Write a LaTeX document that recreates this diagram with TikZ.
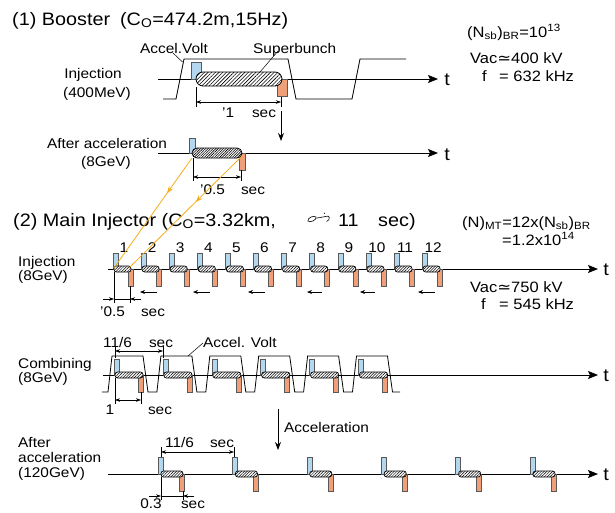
\documentclass[tikz,border=0pt]{standalone}
\usepackage{fontspec}
\setmainfont{Liberation Sans}[FakeStretch=1.1]
\newfontfamily\djv{DejaVu Sans}[FakeStretch=1.1]
\usetikzlibrary{arrows.meta,patterns.meta,decorations.markings}
\definecolor{bluefill}{RGB}{180,215,240}
\definecolor{orfill}{RGB}{240,160,120}
\definecolor{orline}{RGB}{245,172,30}
\begin{document}
\begin{tikzpicture}[x=1pt,y=-1pt,
  lbl/.style={inner sep=0pt,font=\fontsize{14}{16}\selectfont},
  ttl/.style={inner sep=0pt,font=\fontsize{18}{20}\selectfont},
  info/.style={inner sep=0pt,font=\fontsize{15}{18}\selectfont},
  tlbl/.style={inner sep=0pt,font=\fontsize{18}{20}\selectfont},
  axis/.style={line width=0.9pt,-{Stealth[length=10pt,width=8pt,inset=2pt]}},
  wave/.style={line width=0.8pt},
  bluebox/.style={draw=black!65,fill=bluefill,line width=0.5pt},
  orbox/.style={draw=black!65,fill=orfill,line width=0.5pt},
  bigbunch/.style={draw=black,line width=0.8pt,rounded corners=7pt,preaction={fill=white},
     pattern={Lines[angle=45,distance=2.6pt,line width=0.6pt]}},
  midbunch/.style={draw=black,line width=0.8pt,rounded corners=5pt,preaction={fill=white},
     pattern={Lines[angle=45,distance=1.8pt,line width=0.6pt]}},
  smallbunch/.style={draw=black,line width=0.7pt,rounded corners=2.5pt,preaction={fill=white},
     pattern={Lines[angle=45,distance=2pt,line width=0.5pt]}},
  dim/.style={line width=0.5pt,{Stealth[length=5pt,width=3.5pt]}-{Stealth[length=5pt,width=3.5pt]}},
  dimin/.style={line width=0.5pt,-{Stealth[length=5pt,width=3.5pt]}},
  ext/.style={line width=0.5pt},
  down/.style={line width=0.8pt,-{Stealth[length=8pt,width=6pt]}},
  leftarr/.style={line width=0.8pt,-{Stealth[length=5pt,width=4pt]}},
  leader/.style={line width=0.5pt},
  feed/.style={draw=orline,line width=0.8pt,
     decoration={markings,mark=at position #1 with {\arrow[orline]{Stealth[length=7pt,width=5pt]}}},
     postaction={decorate}}
]
\useasboundingbox (0,0) rectangle (615,512);

% ================= (1) Booster =================
\node[ttl,anchor=base west] (title1) at (12,25) {(1) Booster\hspace{10pt}(C\textsubscript{O}=474.2m,15Hz)};

% Injection row
\node[lbl,anchor=base] (binj1) at (93,78) {Injection};
\node[lbl,anchor=base] (binj2) at (97,97) {(400MeV)};
\coordinate (bax1s) at (158,79);
\coordinate (bax1e) at (438,79);
\draw[axis] (bax1s) -- (bax1e);
\node[tlbl,anchor=base] (bt1) at (447,85) {t};
\draw[wave] (163,99) -- (176,99) -- (184,59) -- (288,59) -- (296,99) -- (352,99) -- (360,59) -- (406,59);
\draw[bluebox] (191,62) rectangle (201,79);
\draw[orbox] (277,79) rectangle (287,96);
\draw[bigbunch] (196,72) rectangle (282,86);
\node[lbl,anchor=base west] (bvolt) at (140,53) {Accel.Volt};
\node[lbl,anchor=base west] (bsuper) at (253,53) {Superbunch};
\draw[leader] (173,53) -- (182.5,62);
\draw[leader] (278,51) -- (260,72);
\draw[ext] (196,87) -- (196,107);
\draw[ext] (281,97) -- (281,107);
\draw[dim] (196,102) -- (281,102);
\node[lbl,anchor=base west] (b1us) at (222,117) {'1};
\node[lbl,anchor=base] (b1sec) at (264,117) {sec};
\coordinate (bd1) at (281,111);
\coordinate (bd2) at (281,141);
\draw[down] (bd1) -- (bd2);

% Info
\node[info,anchor=base west] (bn) at (467,37) {(N\textsubscript{sb})\textsubscript{BR}=10\textsuperscript{13}};
\node[info,anchor=base west] (bvac) at (470,63) {Vac{\djv ≃}400 kV};
\node[info,anchor=base west] (bf) at (482,81) {f};
\node[info,anchor=base west] (bfv) at (499,81) {= 632 kHz};

% After acceleration row
\node[lbl,anchor=base] (bacc1) at (107,148) {After acceleration};
\node[lbl,anchor=base] (bacc2) at (106,166) {(8GeV)};
\coordinate (bax2s) at (158,153);
\coordinate (bax2e) at (438,153);
\draw[axis] (bax2s) -- (bax2e);
\node[tlbl,anchor=base] (bt2) at (447,160) {t};
\draw[bluebox] (189,138) rectangle (195,153);
\draw[orbox] (239,153) rectangle (245,170);
\draw[midbunch] (192,148) rectangle (242,158);
\draw[ext] (193,158) -- (193,181);
\draw[ext] (241,170) -- (241,181);
\draw[dim] (193,177) -- (241,177);
\node[lbl,anchor=base west] (b05) at (200,194) {'0.5};
\node[lbl,anchor=base] (b05sec) at (253,194) {sec};

% ================= (2) Main Injector =================
\node[ttl,anchor=base west] (title2) at (13,226) {(2) Main Injector (C\textsubscript{O}=3.32km,};
\draw[line width=0.6pt,rotate around={25:(312,219)}] (312,219) ellipse [x radius=4.5, y radius=2.2];
\draw[line width=0.6pt] (316.3,218.2) -- (325,216.6);
\draw[line width=0.6pt] (325,216.6) .. controls (330,214) and (331,220) .. (326.5,221.5);
\fill (324.5,213.2) circle (0.7pt);
\node[ttl,anchor=base west] (t11) at (338,226) {11};
\node[ttl,anchor=base west] (tsec) at (378,226) {sec)};

\node[info,anchor=base west] (mn1) at (462,227) {(N)\textsubscript{MT}=12x(N\textsubscript{sb})\textsubscript{BR}};
\node[info,anchor=base west] (mn2) at (502,245) {=1.2x10\textsuperscript{14}};
\node[info,anchor=base west] (mvac) at (470,292) {Vac{\djv ≃}750 kV};
\node[info,anchor=base west] (mf) at (481,309) {f};
\node[info,anchor=base west] (mfv) at (499,309) {= 545 kHz};

% Injection (8GeV)
\node[lbl,anchor=base west] (minj1) at (18,266) {Injection};
\node[lbl,anchor=base west] (minj2) at (18,280) {(8GeV)};
\coordinate (max1s) at (108,269);
\coordinate (max1e) at (598,269);
\draw[axis] (max1s) -- (max1e);
\node[tlbl,anchor=base] (mt1) at (606,275) {t};
\foreach \i in {1,...,12}{
  \pgfmathsetmacro\b{113+28.1*(\i-1)}
  \draw[bluebox] (\b,253) rectangle (\b+5,269);
  \draw[orbox] (\b+15,269) rectangle (\b+20,286);
  \draw[smallbunch] (\b+1,266) rectangle (\b+18,272);
  \node[lbl,anchor=base] (num\i) at (\b+11,252) {\i};
}
\foreach \r/\l [count=\k] in {157/140,210/193,265/248,322/307,375/360,435/418}{
  \coordinate (la\k) at (\r,292);
  \coordinate (lb\k) at (\l,292);
  \draw[leftarr] (la\k) -- (lb\k);
}
\draw[ext] (114,272) -- (114,303);
\draw[ext] (130,286) -- (130,303);
\draw[ext] (114,299) -- (130,299);
\draw[dimin] (103,299) -- (114,299);
\draw[dimin] (141,299) -- (130,299);
\node[lbl,anchor=base west] (m05) at (100,316) {'0.5};
\node[lbl,anchor=base] (m05sec) at (153,316) {sec};

% feed lines from booster
\coordinate (fa1) at (192,158);
\coordinate (fa2) at (114,268);
\coordinate (fb1) at (242,156);
\coordinate (fb2) at (129,268);
\draw[feed=0.32] (fa1) -- (fa2);
\draw[feed=0.41] (fb1) -- (fb2);

% Combining (8GeV)
\node[lbl,anchor=base west] (mc1) at (18,368) {Combining};
\node[lbl,anchor=base west] (mc2) at (18,382) {(8GeV)};
\coordinate (max2s) at (103,375);
\coordinate (max2e) at (598,375);
\draw[axis] (max2s) -- (max2e);
\node[tlbl,anchor=base] (mt2) at (606,381) {t};
\draw[wave] (102,392) foreach \b in {114,162.9,211.8,260.7,309.6,358.5}{
   -- (\b-6,392) -- (\b-2,356) -- (\b+29,356) -- (\b+34,392) } -- (400,392);
\foreach \b in {114,162.9,211.8,260.7,309.6,358.5}{
  \draw[bluebox] (\b,359) rectangle (\b+5,375);
  \draw[orbox] (\b+24,375) rectangle (\b+29,392);
  \draw[smallbunch] (\b+1,372) rectangle (\b+29,378);
}
\draw[ext] (115,346) -- (115,358);
\draw[ext] (163,346) -- (163,358);
\draw[dim] (115,351) -- (163,351);
\node[lbl,anchor=base west] (c116) at (103,347) {11/6};
\node[lbl,anchor=base] (c116sec) at (161,347) {sec};
\node[lbl,anchor=base west] (cvolt) at (203,347) {Accel. Volt};
\draw[leader] (203,343) -- (188,356);
\draw[ext] (115,378) -- (115,404);
\draw[ext] (141,392) -- (141,404);
\draw[dim] (115,400) -- (141,400);
\node[lbl,anchor=base] (c1) at (110,414) {1};
\node[lbl,anchor=base] (c1sec) at (160,414) {sec};

% Acceleration arrow
\coordinate (ad1) at (278,409);
\coordinate (ad2) at (278,450);
\draw[down] (ad1) -- (ad2);
\node[lbl,anchor=base west] (accl) at (284,432) {Acceleration};

% After acceleration (120GeV)
\node[lbl,anchor=base west] (ma1) at (18,447) {After};
\node[lbl,anchor=base west] (ma2) at (18,462) {acceleration};
\node[lbl,anchor=base west] (ma3) at (18,477) {(120GeV)};
\coordinate (max3s) at (108,474);
\coordinate (max3e) at (598,474);
\draw[axis] (max3s) -- (max3e);
\node[tlbl,anchor=base] (mt3) at (606,480) {t};
\foreach \i in {0,...,5}{
  \pgfmathsetmacro\b{158+74.4*\i}
  \draw[bluebox] (\b,457) rectangle (\b+5,474);
  \draw[orbox] (\b+21,474) rectangle (\b+26,491);
  \draw[smallbunch] (\b+3,471) rectangle (\b+25,477);
}
\draw[ext] (161,447) -- (161,457);
\draw[ext] (234,447) -- (234,457);
\draw[dim] (161,452) -- (234,452);
\node[lbl,anchor=base west] (a116) at (165,447) {11/6};
\node[lbl,anchor=base] (a116sec) at (222,447) {sec};
\draw[ext] (161,477) -- (161,500);
\draw[ext] (183,491) -- (183,500);
\draw[ext] (161,496) -- (183,496);
\draw[dimin] (149,496) -- (161,496);
\draw[dimin] (194,496) -- (183,496);
\node[lbl,anchor=base] (a03) at (151,508) {0.3};
\node[lbl,anchor=base] (a03sec) at (193,508) {sec};
\end{tikzpicture}
\end{document}
